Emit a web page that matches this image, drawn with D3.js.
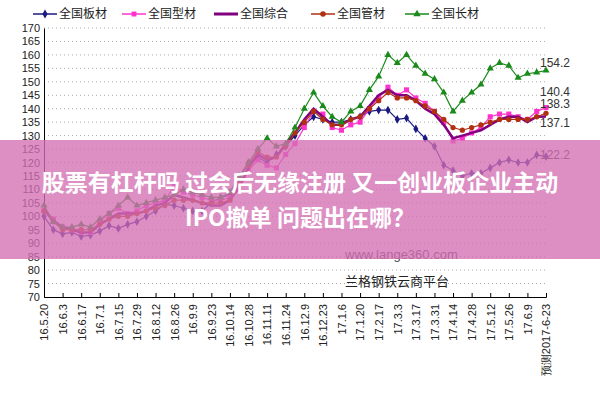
<!DOCTYPE html>
<html><head><meta charset="utf-8">
<script src="https://cdn.jsdelivr.net/npm/d3@7"></script>
<style>body{margin:0;background:#fff}svg{font-family:"Liberation Sans","Noto Sans CJK SC",sans-serif}</style>
</head><body><div id="chart"></div>
<script>
// weekly points, ticks labelled every second week
var nPoints = 55;
var tickLabels = ["16.5.20","16.6.3","16.6.17","16.7.1","16.7.15","16.7.29","16.8.12","16.8.26","16.9.9","16.9.23","16.10.14","16.10.28","16.11.11","16.11.24","16.12.9","16.12.23","17.1.6","17.1.20","17.2.17","17.3.3","17.3.17","17.3.31","17.4.14","17.4.28","17.5.12","17.5.26","17.6.9","预测2017-6-23"];

var banCai = [100,95,93.5,94,92.5,93,94.5,96.5,95.5,97,98,100,102,104.5,104,103,102,102,105,107,108,114,120,122,120,123,126,130,134,137,136,135,135,136,137,139,139.5,139.5,136,136.5,132.5,129,126,119,117,115,116,116,118,120,121,120,120,122.8,122.2];
var xingCai = [102,99,96,95,94,94,98,101,103,101,102,104,105,106,111,109,108,107,106,106,107,110,117,121,119,118,123,127,133,139,138,133,132,134,135,140,144,148,145,147,144,142,139,135,128,129,131,133,137,138,138,137,136,139,140.4];
var zongHe = [103,98,96,95,94,94,97,99,101,101,101,102,104,105,108,107,106,105,104,104,106,111,118,123,121,122,127,131,136,140,137,134,134,136,137,141,145,147,145,145,143,140,138,134,129,130,131,132,134,136,137,137,135,137,137.1];
var guanCai = [102,98,95,95,95,95,97,99,100,100,101,102,103,104,106,106,106,105,105,105,106,112,119,124,122,122,126,131,135,139,136,134,134,136,137,140,143,146,144,144,143,141,139,136,133,132,133,134,135,136,136,136,136,137,138.3];
var changCai = [104,98,96,96,97,96,99,101,104,107,104,105,106,107,108,110,109,108,107,107,109,115,120,125,129,126,127,133,140,146,141,137,135,139,141,147,152,160,157,160,156,153,151,146,139,143,146,149,155,157,156,151.5,153,153.5,154.2];

var seriesNames = ["全国板材","全国型材","全国综合","全国管材","全国长材"];
var seriesColors = ["#1a1a80","#ff33cc","#800080","#b03010","#1a8a1a"];
var endLabels = ["122.2","140.4","137.1","138.3","154.2"];
var yTicks = d3.range(70, 171, 5);

var W = 600, H = 400, mLeft = 44, mRight = 546, mTop = 28, mBottom = 297;
var svg = d3.select("#chart").append("svg").attr("width", W).attr("height", H);

var x = d3.scaleLinear().domain([0, nPoints - 1]).range([mLeft, mRight]);
var y = d3.scaleLinear().domain([70, 170]).range([mBottom, mTop]);

// grid
svg.append("g").selectAll("line").data(yTicks.slice(1)).enter().append("line")
  .attr("x1", mLeft).attr("x2", mRight).attr("y1", d => y(d)).attr("y2", d => y(d))
  .attr("stroke", "#aaa").attr("stroke-dasharray", "1,3");

var yAxis = svg.append("g").attr("transform", "translate(" + mLeft + ",0)")
  .call(d3.axisLeft(y).tickValues(yTicks).tickSize(0).tickPadding(4));
yAxis.select(".domain").attr("stroke", "#000");
yAxis.selectAll("text").attr("font-size", 11).attr("fill", "#222");

var tickIdx = d3.range(0, nPoints - 1, 2).concat([nPoints - 1]);
var xAxis = svg.append("g").attr("transform", "translate(0," + mBottom + ")")
  .call(d3.axisBottom(x).tickValues(tickIdx).tickSize(-4).tickFormat((d, i) => tickLabels[i]));
xAxis.select(".domain").attr("stroke", "#000");
xAxis.selectAll("text").attr("font-size", 11).attr("fill", "#222")
  .attr("transform", "rotate(-90)").attr("text-anchor", "end")
  .attr("x", -7).attr("y", 0).attr("dy", "0.35em");

var allSeries = [banCai, xingCai, zongHe, guanCai, changCai];
var shapes = [d3.symbolDiamond, d3.symbolSquare, null, d3.symbolCircle, d3.symbolTriangle];
var line = d3.line().x((d, i) => x(i)).y(d => y(d));

allSeries.forEach(function (s, k) {
  var g = svg.append("g");
  g.append("path").datum(s).attr("d", line).attr("fill", "none")
    .attr("stroke", seriesColors[k]).attr("stroke-width", k == 2 ? 2.5 : 1.2);
  if (shapes[k]) {
    g.selectAll("path.m").data(s).enter().append("path").attr("class", "m")
      .attr("d", d3.symbol().type(shapes[k]).size(k == 1 ? 26 : 22))
      .attr("transform", (d, i) => "translate(" + x(i) + "," + y(d) + ")")
      .attr("fill", seriesColors[k]);
  }
});

// end value labels
var labelDy = [2, -12, 10, -5, -4];
allSeries.forEach(function (s, k) {
  svg.append("text").attr("x", mRight - 6).attr("y", y(s[s.length - 1]) + labelDy[k])
    .attr("font-size", 12).attr("fill", "#333").text(endLabels[k]);
});

// legend
var legX = [33, 122, 214, 311, 405];
seriesNames.forEach(function (n, k) {
  var g = svg.append("g").attr("transform", "translate(" + legX[k] + ",14)");
  g.append("line").attr("x1", 0).attr("x2", 24).attr("stroke", seriesColors[k]).attr("stroke-width", k == 2 ? 3 : 1.5);
  if (shapes[k]) g.append("path").attr("d", d3.symbol().type(shapes[k]).size(24)).attr("transform", "translate(12,0)").attr("fill", seriesColors[k]);
  g.append("text").attr("x", 26).attr("dy", "0.35em").attr("font-size", 12).attr("fill", "#222").text(n);
});

// watermark texts
svg.append("text").attr("x", 345).attr("y", 259).attr("font-size", 13).attr("fill", "#444").text("www.lange360.com");
svg.append("text").attr("x", 345).attr("y", 286).attr("font-size", 13).attr("fill", "#222").text("兰格钢铁云商平台");

// overlay band
svg.append("rect").attr("x", 0).attr("y", 140).attr("width", W).attr("height", 119)
  .attr("fill", "#d46fb4").attr("opacity", 0.78);
svg.append("text").attr("x", W / 2).attr("y", 191).attr("text-anchor", "middle")
  .attr("font-family", "Noto Sans CJK SC").attr("font-weight", "bold").attr("font-size", 23).attr("fill", "#fff")
  .text("股票有杠杆吗 过会后无缘注册 又一创业板企业主动");
svg.append("text").attr("x", W / 2).attr("y", 226).attr("text-anchor", "middle")
  .attr("font-family", "Noto Sans CJK SC").attr("font-weight", "bold").attr("font-size", 23).attr("fill", "#fff")
  .text("IPO撤单 问题出在哪？");
</script></body></html>
